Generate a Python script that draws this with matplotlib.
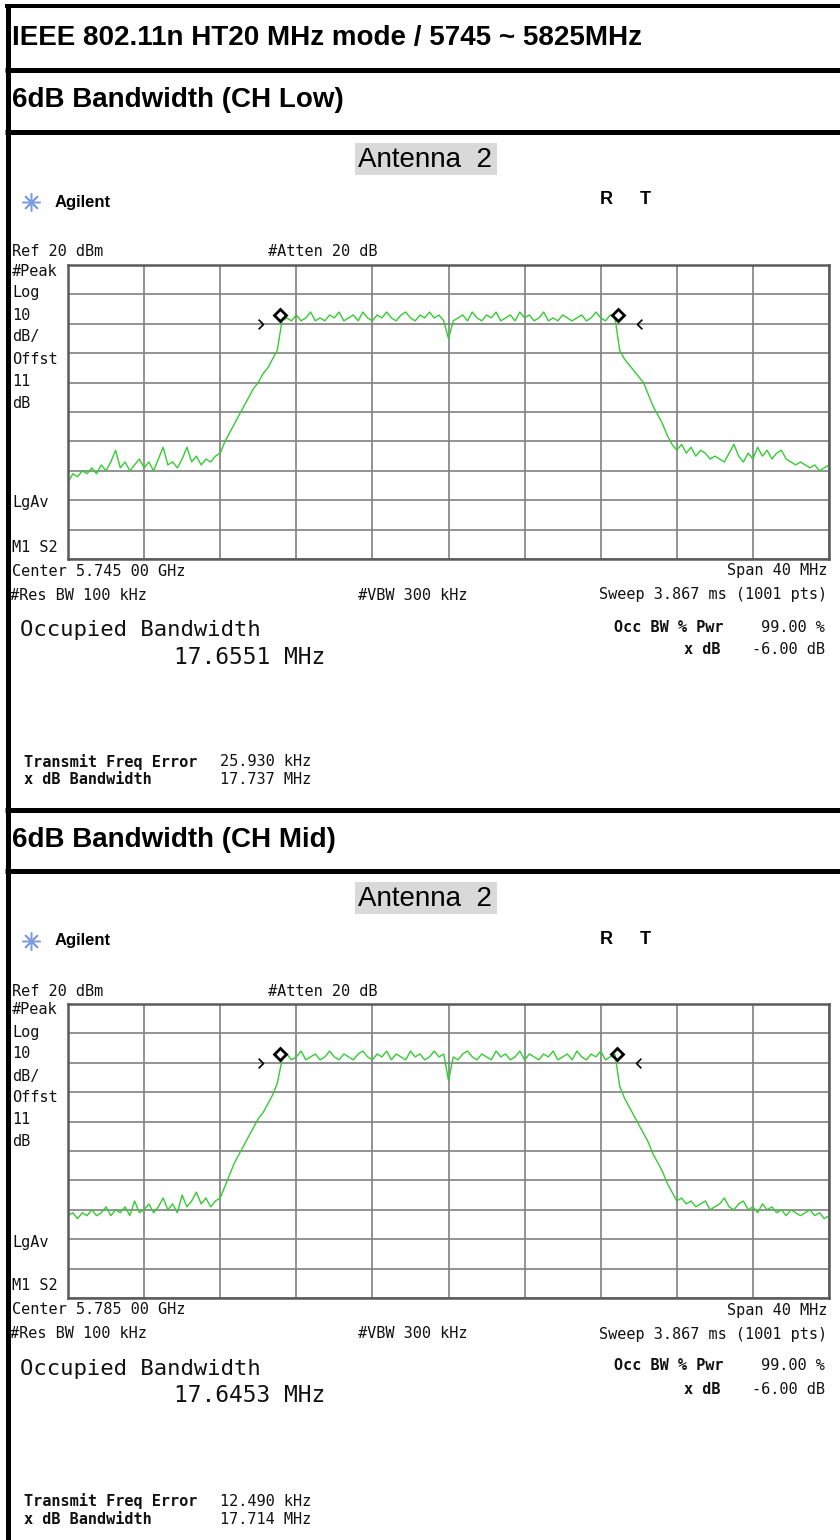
import numpy as np
import matplotlib.pyplot as plt
from matplotlib.patches import Rectangle

# header rows
title = "IEEE 802.11n HT20 MHz mode / 5745 ~ 5825MHz"
channels = ["6dB Bandwidth (CH Low)", "6dB Bandwidth (CH Mid)"]
antenna = "Antenna  2"

# instrument read-outs per channel
center_freq = ["5.745 00", "5.785 00"]
occ_bw = ["17.6551", "17.6453"]
freq_err_khz = ["25.930", "12.490"]
xdb_bw_mhz = ["17.737", "17.714"]
ref_level = 20          # dBm, top of graticule
db_per_div = 10
span = 40               # MHz
marker_level = [3, 3]   # dBm, height of the x dB markers
arrow_level = [0, 0]    # dBm, -6 dB threshold arrows

# trace readings, dBm, one per 0.25 MHz from -20 to +20 MHz offset
low_floor_l = [-54, -51, -52, -50, -51, -49, -51, -48, -50, -47, -43, -49, -47, -50, -48, -46, -49,
               -47, -50, -46, -42, -48, -47, -49, -46, -42, -47, -45, -48, -46, -47, -45, -44]
low_skirt_l = [-40, -37, -34, -31, -28, -25, -22, -20, -17, -15, -12, -9]
low_plateau = [1, 2, 1, 3, 1, 2, 4, 1, 2, 1, 3, 2, 4, 1, 2, 3, 1, 4, 2, 1, 3, 2, 4, 2, 1, 3, 4, 2,
               1, 3, 2, 4, 2, 3, 1, -5, 1, 2, 3, 1, 4, 2, 1, 3, 2, 4, 1, 2, 3, 1, 4, 2, 3, 1, 2,
               4, 1, 2, 1, 3, 2, 1, 2, 3, 1, 2, 4, 2, 1, 3, 2]
low_skirt_r = [-9, -12, -14, -16, -18, -20, -24, -28, -31, -34, -38, -41, -43]
low_floor_r = [-41, -44, -42, -45, -43, -44, -46, -45, -46, -47, -44, -41, -45, -47, -44, -46,
               -42, -45, -43, -46, -44, -43, -46, -47, -48, -47, -48, -49, -48, -50, -49, -48]

mid_floor_l = [-52, -51, -53, -51, -52, -50, -52, -51, -49, -52, -50, -51, -49, -52, -47, -51, -50,
               -48, -51, -49, -46, -50, -48, -51, -45, -49, -47, -44, -48, -46, -49, -47, -46]
mid_skirt_l = [-42, -38, -34, -31, -28, -25, -22, -19, -17, -14, -11, -7]
mid_plateau = [1, 3, 1, 2, 4, 1, 2, 3, 1, 2, 4, 2, 1, 3, 2, 1, 3, 4, 2, 1, 3, 2, 4, 1, 3, 2, 1, 4,
               2, 3, 1, 2, 4, 2, 3, -6, 2, 1, 3, 4, 2, 1, 3, 2, 1, 4, 2, 3, 1, 2, 4, 1, 3, 2, 1,
               3, 2, 4, 1, 2, 3, 1, 4, 2, 1, 3, 2, 4, 1, 2, 3]
mid_skirt_r = [-8, -12, -15, -18, -21, -24, -27, -31, -34, -37, -41, -44, -47]
mid_floor_r = [-46, -48, -47, -49, -48, -47, -50, -49, -48, -46, -49, -50, -48, -47, -50, -49,
               -51, -48, -50, -49, -51, -50, -52, -50, -51, -52, -51, -50, -52, -51, -53, -52]

traces = [
    np.concatenate([low_floor_l, low_skirt_l, low_plateau, low_skirt_r, low_floor_r]),
    np.concatenate([mid_floor_l, mid_skirt_l, mid_plateau, mid_skirt_r, mid_floor_r]),
]

W, H = 840, 1540
SANS = "Liberation Sans"
MONO = "DejaVu Sans Mono"
GREEN = "#33cc33"
INK = "#111111"

fig = plt.figure(figsize=(W / 100, H / 100), dpi=100)
page = fig.add_axes([0, 0, 1, 1])
page.set_xlim(0, W)
page.set_ylim(H, 0)
page.axis("off")


def px_axes(x0, y0, x1, y1):
    return fig.add_axes([x0 / W, 1 - y1 / H, (x1 - x0) / W, (y1 - y0) / H])


def mono(x, y, s, size=11, **kw):
    page.text(x, y, s, family=MONO, fontsize=size, color=INK, va="center", **kw)


# table frame
page.plot([7.5, 7.5], [4, H], color="black", lw=3.6, solid_capstyle="butt")
page.plot([5, W], [6, 6], color="black", lw=2.9, solid_capstyle="butt")
for y in [69.5, 131.5, 809.5, 870.5]:
    page.plot([5, W], [y, y], color="black", lw=3.6, solid_capstyle="butt")

page.text(12, 38, title, family=SANS, weight="bold", fontsize=20, va="center")
page.text(12, 100, channels[0], family=SANS, weight="bold", fontsize=20, va="center")
page.text(12, 840, channels[1], family=SANS, weight="bold", fontsize=20, va="center")

chev_r = [(-1, 1), (0, 0), (-1, -1)]
chev_l = [(1, 1), (0, 0), (1, -1)]
freq = np.arange(len(traces[0])) * 0.25 - span / 2


def draw_panel(k, off):
    page.add_patch(Rectangle((355, 143 + off), 142, 32, fc="#d9d9d9", ec="none"))
    page.text(358, 160 + off, antenna, family=SANS, fontsize=20, va="center")
    page.plot(31, 202 + off, marker=(8, 2, 0), ms=13, color="#7d9be0", mew=1.1)
    page.text(55, 202 + off, "Agilent", family=SANS, weight="bold", fontsize=12, va="center")
    page.text(600, 200 + off, "R", family=SANS, weight="bold", fontsize=13, va="center")
    page.text(640, 200 + off, "T", family=SANS, weight="bold", fontsize=13, va="center")

    mono(12, 252 + off, "Ref %d dBm" % ref_level)
    mono(268, 252 + off, "#Atten 20 dB")
    side = ["#Peak", "Log", "%d" % db_per_div, "dB/", "Offst", "11", "dB"]
    for i, s in enumerate(side):
        mono(12, 271 + 22 * i + off, s)
    mono(12, 503 + off, "LgAv")
    mono(12, 547 + off, "M1 S2")

    mono(12, 571 + off, "Center %s GHz" % center_freq[k])
    mono(827, 571 + off, "Span %d MHz" % span, ha="right")
    mono(10, 595 + off, "#Res BW 100 kHz")
    mono(358, 595 + off, "#VBW 300 kHz")
    mono(827, 595 + off, "Sweep 3.867 ms (1001 pts)", ha="right")

    mono(20, 630 + off, "Occupied Bandwidth", size=16)
    mono(174, 657 + off, "%s MHz" % occ_bw[k], size=16.5)
    mono(723, 627 + off, "Occ BW % Pwr", weight="bold", ha="right")
    mono(825, 627 + off, "99.00 %", ha="right")
    mono(721, 650 + off, "x dB", weight="bold", ha="right")
    mono(825, 650 + off, "-6.00 dB", ha="right")

    mono(24, 762 + off, "Transmit Freq Error", weight="bold")
    mono(220, 762 + off, "%s kHz" % freq_err_khz[k])
    mono(24, 780 + off, "x dB Bandwidth", weight="bold")
    mono(220, 780 + off, "%s MHz" % xdb_bw_mhz[k])

    # graticule
    ax = px_axes(68, 265 + off, 829, 559 + off)
    ax.set_xlim(-span / 2, span / 2)
    ax.set_ylim(ref_level - 10 * db_per_div, ref_level)
    ax.set_xticks(np.linspace(-span / 2, span / 2, 11))
    ax.set_yticks(np.linspace(ref_level - 10 * db_per_div, ref_level, 11))
    ax.grid(True, color="#808080", lw=1.2)
    ax.tick_params(length=0, labelbottom=False, labelleft=False)
    for s in ax.spines.values():
        s.set_color("#5a5a5a")
        s.set_linewidth(1.8)

    ax.plot(freq, traces[k], color=GREEN, lw=1.0)

    # x dB bandwidth edges, from the read-out values
    err = float(freq_err_khz[k]) / 1000
    half = float(xdb_bw_mhz[k]) / 2
    edges = [err - half, err + half]
    ax.plot(edges, [marker_level[k]] * 2, "D", ms=6.5, mfc="none", mec="black", mew=2,
            clip_on=False, zorder=5)
    ax.plot(edges[0] - 0.9, arrow_level[k], marker=chev_r, ms=7, mfc="none", mec="black",
            mew=1.2, zorder=5)
    ax.plot(edges[1] + 1.0, arrow_level[k], marker=chev_l, ms=7, mfc="none", mec="black",
            mew=1.2, zorder=5)


draw_panel(0, 0)
draw_panel(1, 739)

fig.savefig("out.png", dpi=100)
